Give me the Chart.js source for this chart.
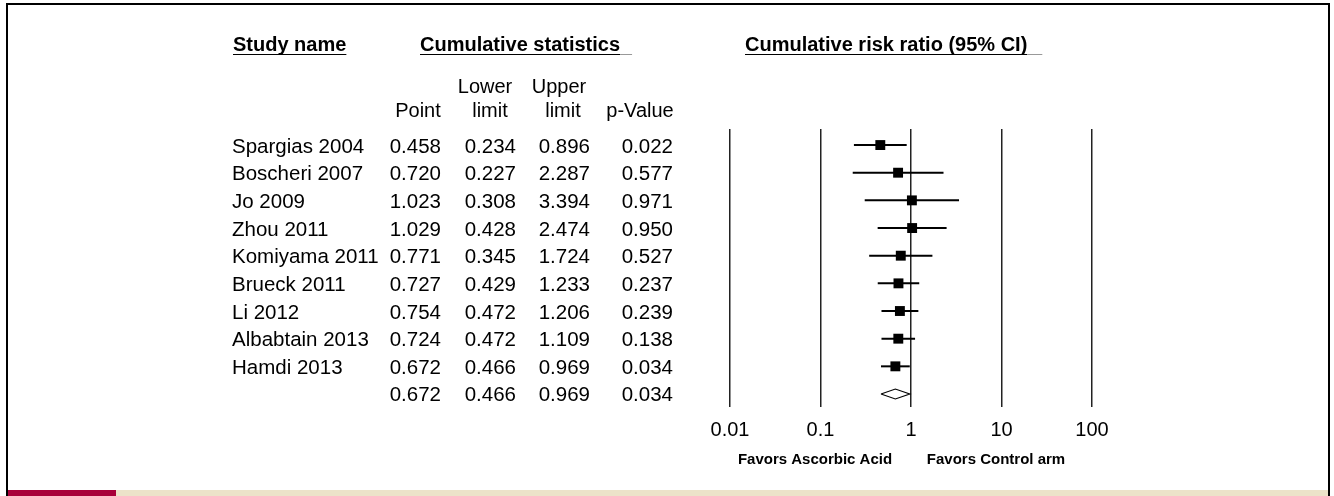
<!DOCTYPE html>
<html>
<head>
<meta charset="utf-8">
<script src="https://cdn.jsdelivr.net/npm/chart.js@4.4.1/dist/chart.umd.min.js"></script>
<style>
  html, body { margin: 0; padding: 0; background: #fff; }
  #wrap { position: relative; width: 1334px; height: 496px; overflow: hidden; }
  #frame { position: absolute; left: 6px; top: 3px; width: 1324px; height: 520px; border: 2px solid #000; box-sizing: border-box; }
  #bandRed { position: absolute; left: 8px; top: 490px; width: 108px; height: 6px; background: #a8003a; }
  #bandBeige { position: absolute; left: 116px; top: 490px; width: 1212px; height: 6px; background: #ece3c9; }
  #forest { position: absolute; left: 0; top: 0; }
</style>
</head>
<body>
<div id="wrap">
  <div id="frame"></div>
  <div id="bandRed"></div>
  <div id="bandBeige"></div>
  <canvas id="forest" width="1334" height="496"></canvas>
</div>
<script>
const studies = ['Spargias 2004', 'Boscheri 2007', 'Jo 2009', 'Zhou 2011', 'Komiyama 2011',
  'Brueck 2011', 'Li 2012', 'Albabtain 2013', 'Hamdi 2013'];
const pointEst = [0.458, 0.720, 1.023, 1.029, 0.771, 0.727, 0.754, 0.724, 0.672];
const lowerLimit = [0.234, 0.227, 0.308, 0.428, 0.345, 0.429, 0.472, 0.472, 0.466];
const upperLimit = [0.896, 2.287, 3.394, 2.474, 1.724, 1.233, 1.206, 1.109, 0.969];
const pValues = [0.022, 0.577, 0.971, 0.950, 0.527, 0.237, 0.239, 0.138, 0.034];

// pooled (last cumulative) row
const summaryPoint = 0.672;
const summaryLower = 0.466;
const summaryUpper = 0.969;
const summaryP = 0.034;

const tickValues = [0.01, 0.1, 1, 10, 100];
const tickLabels = ['0.01', '0.1', '1', '10', '100'];

const FONT = '"Liberation Sans", Arial, Helvetica, sans-serif';
const summaryRow = studies.length;

// table on the left and headers, positioned on the chart's own y scale
const tablePlugin = {
  id: 'forestTable',
  afterDraw(chart) {
    const ctx = chart.ctx;
    const yScale = chart.scales.y;
    const rowY = i => yScale.getPixelForValue(i);
    ctx.save();
    ctx.fillStyle = '#000';
    ctx.textBaseline = 'alphabetic';

    // section headers with underline
    ctx.font = 'bold 20px ' + FONT;
    ctx.textAlign = 'left';
    const header = (text, x, y, extra) => {
      ctx.fillText(text, x, y);
      const w = ctx.measureText(text).width;
      ctx.fillRect(x, y + 3, w, 1);
      if (extra) {
        ctx.fillStyle = '#999';
        ctx.fillRect(x + w, y + 3, extra, 1);
        ctx.fillStyle = '#000';
      }
    };
    header('Study name', 233, 51, 0);
    header('Cumulative statistics', 420, 51, 12);
    header('Cumulative risk ratio (95% CI)', 745, 51, 15);

    // column headers
    ctx.font = '20px ' + FONT;
    ctx.textAlign = 'center';
    ctx.fillText('Point', 418, 117);
    ctx.fillText('Lower', 485, 93);
    ctx.fillText('limit', 490, 117);
    ctx.fillText('Upper', 559, 93);
    ctx.fillText('limit', 563, 117);
    ctx.fillText('p-Value', 640, 117);

    // rows
    ctx.font = '20.5px ' + FONT;
    const cols = [441, 516, 590, 673];
    const drawRow = (name, vals, i) => {
      const y = rowY(i) + 7.5;
      ctx.textAlign = 'left';
      ctx.fillText(name, 232, y);
      ctx.textAlign = 'right';
      vals.forEach((v, k) => ctx.fillText(v.toFixed(3), cols[k], y));
    };
    studies.forEach((s, i) => drawRow(s, [pointEst[i], lowerLimit[i], upperLimit[i], pValues[i]], i));
    drawRow('', [summaryPoint, summaryLower, summaryUpper, summaryP], summaryRow);

    // favours labels under the axis
    ctx.font = 'bold 15px ' + FONT;
    ctx.textAlign = 'center';
    ctx.textBaseline = 'middle';
    ctx.fillText('Favors Ascorbic Acid', 815, 460);
    ctx.fillText('Favors Control arm', 996, 460);
    ctx.restore();
  }
};

const ciSets = studies.map((s, i) => ({
  label: s,
  data: [{ x: lowerLimit[i], y: i }, { x: upperLimit[i], y: i }],
  showLine: true,
  borderColor: '#000',
  borderWidth: 2,
  pointRadius: 0
}));

const dh = 0.18;
const diamond = {
  label: 'Pooled',
  data: [
    { x: summaryLower, y: summaryRow },
    { x: summaryPoint, y: summaryRow - dh },
    { x: summaryUpper, y: summaryRow },
    { x: summaryPoint, y: summaryRow + dh },
    { x: summaryLower, y: summaryRow }
  ],
  showLine: true,
  borderColor: '#000',
  borderWidth: 1.2,
  pointRadius: 0,
  tension: 0
};

const squares = {
  label: 'Point',
  data: pointEst.map((p, i) => ({ x: p, y: i })),
  pointStyle: 'rect',
  pointRadius: 7,
  backgroundColor: '#000',
  borderWidth: 0
};

new Chart(document.getElementById('forest').getContext('2d'), {
  type: 'scatter',
  data: { datasets: [squares, ...ciSets, diamond] },
  options: {
    responsive: false,
    animation: false,
    devicePixelRatio: 1,
    layout: { padding: { left: 730, right: 242, top: 129, bottom: 0 } },
    plugins: { legend: { display: false }, tooltip: { enabled: false } },
    scales: {
      x: {
        type: 'logarithmic',
        min: 0.01,
        max: 100,
        afterBuildTicks: scale => { scale.ticks = tickValues.map(v => ({ value: v })); },
        afterFit: scale => { scale.height = 89; },
        ticks: {
          callback: (v, i) => tickLabels[i],
          color: '#000',
          font: { family: FONT, size: 20 },
          padding: 11,
          maxRotation: 0,
          autoSkip: false
        },
        grid: { color: '#222', lineWidth: 1.5, drawTicks: false },
        border: { display: false }
      },
      y: {
        type: 'linear',
        display: false,
        reverse: true,
        min: -0.58,
        max: 9.47
      }
    }
  },
  plugins: [tablePlugin]
});
</script>
</body>
</html>
